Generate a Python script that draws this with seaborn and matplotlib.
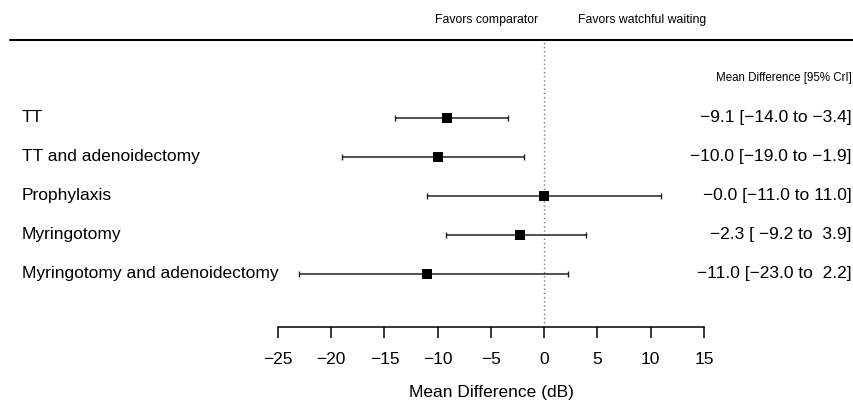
import matplotlib
matplotlib.use("Agg")
import matplotlib.pyplot as plt
import matplotlib.transforms as mtransforms
from matplotlib.lines import Line2D
import seaborn as sns
import pandas as pd

# data
labels = ["TT", "TT and adenoidectomy", "Prophylaxis", "Myringotomy",
          "Myringotomy and adenoidectomy"]
mean_diff = [-9.1, -10.0, -0.0, -2.3, -11.0]
lower = [-14.0, -19.0, -11.0, -9.2, -23.0]
upper = [-3.4, -1.9, 11.0, 3.9, 2.2]
xticks = [-25, -20, -15, -10, -5, 0, 5, 10, 15]

sns.set_style("white")
plt.rcParams['font.family'] = ['Liberation Sans', 'DejaVu Sans']
plt.rcParams['text.color'] = 'black'
plt.rcParams['axes.labelcolor'] = 'black'
plt.rcParams['xtick.color'] = 'black'

df = pd.DataFrame({"label": labels, "md": mean_diff, "lo": lower, "hi": upper})
df["ypos"] = list(range(len(labels), 0, -1))

fig = plt.figure(figsize=(8.54, 4.03), dpi=100)
ax = fig.add_axes([278 / 854, 76 / 403, 426 / 854, 287 / 403])

# intervals with small caps
ax.errorbar(df["md"], df["ypos"],
            xerr=[df["md"] - df["lo"], df["hi"] - df["md"]],
            fmt="none", ecolor="#222222", elinewidth=1.1, capsize=2.5, capthick=1.0,
            zorder=2)
sns.scatterplot(data=df, x="md", y="ypos", marker="s", s=48, color="black",
                edgecolor="black", linewidth=0, ax=ax, zorder=3, legend=False)

ax.axvline(0, color="#777777", ls=(0, (1, 2)), lw=1.0, zorder=1)

ax.set_xlim(-25, 15)
ax.set_ylim(-0.36, 7.0)
ax.set_yticks([])
ax.set_xticks(xticks)
ax.tick_params(axis="x", direction="out", length=8, width=1.1, pad=10,
               labelsize=12.5, bottom=True)
ax.set_xlabel("Mean Difference (dB)", fontsize=12.5, labelpad=13)
ax.set_ylabel("")
for s in ["top", "left", "right"]:
    ax.spines[s].set_visible(False)
ax.spines["bottom"].set_bounds(-25, 15)
ax.spines["bottom"].set_linewidth(1.1)
ax.spines["bottom"].set_color("black")

# row labels and values
trans = mtransforms.blended_transform_factory(fig.transFigure, ax.transData)
for _, r in df.iterrows():
    ax.text(22 / 854, r["ypos"], r["label"], transform=trans, ha="left",
            va="center", fontsize=12.5, clip_on=False)
    txt = f"{r['md']:.1f} [{r['lo']:5.1f} to {r['hi']:4.1f}]".replace("-", "\u2212")
    ax.text(852 / 854, r["ypos"], txt, transform=trans, ha="right",
            va="center", fontsize=12.5, clip_on=False)

ax.text(852 / 854, 6.03, "Mean Difference [95% CrI]", transform=trans,
        ha="right", va="center", fontsize=8.3, clip_on=False)

fig.text(538 / 854, 1 - 20 / 403, "Favors comparator", ha="right", va="center",
         fontsize=8.8)
fig.text(578 / 854, 1 - 20 / 403, "Favors watchful waiting", ha="left",
         va="center", fontsize=8.8)
fig.add_artist(Line2D([10 / 854, 1.0], [1 - 40 / 403, 1 - 40 / 403],
                      transform=fig.transFigure, color="black", lw=1.5))

fig.savefig("out.png", dpi=100)
